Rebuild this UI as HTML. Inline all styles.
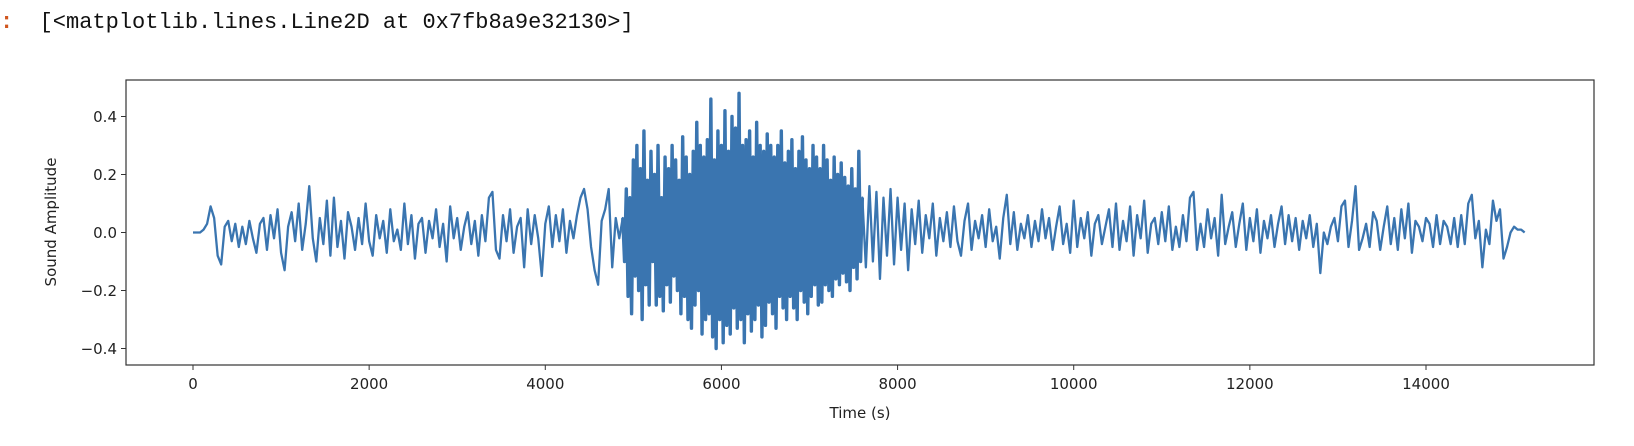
<!DOCTYPE html>
<html><head><meta charset="utf-8"><style>
body{margin:0;background:#fff;width:1634px;height:446px;overflow:hidden;position:relative;font-family:"DejaVu Sans","Liberation Sans",sans-serif}
#hdr{position:absolute;left:0;top:10px;font-family:"Liberation Mono",monospace;font-size:22px;color:#111;white-space:pre}
#hdr .c{color:#d0561e;font-weight:bold}
</style></head><body>
<div id="hdr"><span class="c">:</span>  [&lt;matplotlib.lines.Line2D at 0x7fb8a9e32130&gt;]</div>
<svg id="chart" width="1634" height="446" style="position:absolute;left:0;top:0"></svg>
<script>
const sampleStep = 40;
const amplitude = [
0,0,0,0.01,0.03,0.09,0.05,-0.08,-0.11,0.02,0.04,-0.03,0.03,-0.05,0.02,-0.04,0.04,-0.02,-0.07,0.03,
0.05,-0.06,0.06,-0.02,0.08,-0.07,-0.13,0.02,0.07,-0.03,0.10,-0.06,0.03,0.16,-0.02,-0.10,0.05,-0.04,0.11,-0.08,
0.12,-0.05,0.04,-0.09,0.07,0.02,-0.06,0.05,-0.04,0.10,-0.03,-0.08,0.06,-0.02,0.04,-0.07,0.08,-0.03,0.01,-0.06,
0.10,-0.04,0.06,-0.09,0.03,0.05,-0.07,0.04,-0.02,0.08,-0.05,0.03,-0.10,0.09,-0.02,0.05,-0.06,0.02,0.07,-0.04,
0.04,-0.08,0.06,-0.03,0.12,0.14,-0.06,-0.09,0.06,-0.03,0.08,-0.07,0.02,0.05,-0.12,0.08,-0.04,0.06,-0.02,-0.15,
0.03,0.09,-0.05,0.06,-0.03,0.08,-0.07,0.04,-0.02,0.06,0.12,0.15,0.08,-0.05,-0.13,-0.18,0.04,0.08,0.15,-0.12,
0.05,-0.02,0.12,-0.14,0.18,-0.20,0.25,-0.30,0.35,-0.18,0.28,-0.25,0.22,-0.22,0.30,-0.20,0.26,-0.18,0.33,-0.28,
0.28,-0.24,0.30,-0.33,0.25,-0.27,0.38,-0.30,0.32,-0.36,0.26,-0.40,0.46,-0.32,0.40,-0.38,0.30,-0.34,0.48,-0.30,
0.35,-0.36,0.28,-0.33,0.32,-0.26,0.30,-0.28,0.35,-0.22,0.29,-0.30,0.24,-0.26,0.33,-0.22,0.25,-0.20,0.27,-0.26,
0.22,-0.18,0.31,-0.24,0.19,-0.15,0.24,-0.22,0.18,-0.14,0.28,-0.12,0.16,-0.10,0.14,-0.16,0.12,-0.08,0.15,-0.11,
0.12,-0.06,0.10,-0.13,0.08,-0.04,0.11,-0.07,0.06,-0.02,0.10,-0.08,0.05,-0.03,0.07,-0.05,0.09,-0.03,-0.08,0.04,
0.10,-0.06,0.04,-0.02,0.06,-0.05,0.08,-0.03,0.02,-0.09,0.05,0.13,-0.04,0.07,-0.06,0.03,-0.02,0.06,-0.05,0.04,
-0.03,0.08,-0.02,0.05,-0.06,0.02,0.09,-0.04,0.03,-0.07,0.11,-0.05,0.05,-0.02,0.07,-0.08,0.03,0.06,-0.04,0.02,
0.08,-0.05,0.10,-0.06,0.04,-0.03,0.09,-0.08,0.06,-0.02,0.11,-0.07,0.03,0.05,-0.04,0.07,-0.03,0.09,-0.06,0.02,
-0.05,0.06,-0.03,0.12,0.14,-0.06,0.03,-0.05,0.08,-0.02,0.05,-0.08,0.13,-0.04,0.02,0.07,-0.05,0.03,0.10,-0.06,
0.05,-0.03,0.08,-0.07,0.04,-0.02,0.06,-0.05,0.03,0.09,-0.04,0.06,-0.03,0.05,-0.06,0.04,-0.02,0.06,-0.05,0.03,
-0.14,0.00,-0.04,0.02,0.05,-0.03,0.09,0.11,-0.05,0.04,0.16,-0.06,-0.02,0.03,-0.05,0.07,0.04,-0.06,0.02,0.09,
-0.04,0.05,-0.06,0.08,-0.02,0.10,-0.07,0.04,0.02,-0.03,0.05,0.03,-0.05,0.06,-0.04,0.04,0.02,-0.04,0.05,-0.05,
0.06,-0.04,0.10,0.13,-0.02,0.04,-0.12,0.01,-0.04,0.11,0.04,0.08,-0.09,-0.05,0.00,0.02,0.01,0.01,0.00
];
// finer-sampled burst section (replaces the coarse samples 4880..7600)
const burstStart = 4880;
const burstStep = 20;
const burstAmplitude = [
0.05,-0.10,0.15,-0.22,0.12,-0.28,0.25,-0.15,0.30,-0.20,0.22,-0.30,0.35,-0.18,0.18,-0.25,
0.28,-0.10,0.20,-0.25,0.30,-0.22,0.12,-0.27,0.26,-0.18,0.22,-0.24,0.30,-0.15,0.25,-0.20,
0.18,-0.28,0.33,-0.22,0.26,-0.30,0.20,-0.33,0.28,-0.25,0.38,-0.20,0.30,-0.35,0.26,-0.30,
0.32,-0.28,0.46,-0.36,0.25,-0.40,0.35,-0.30,0.30,-0.38,0.42,-0.32,0.28,-0.35,0.40,-0.26,
0.36,-0.33,0.48,-0.30,0.30,-0.38,0.32,-0.28,0.35,-0.34,0.26,-0.30,0.38,-0.25,0.30,-0.36,
0.28,-0.32,0.34,-0.24,0.30,-0.28,0.26,-0.33,0.30,-0.22,0.35,-0.26,0.24,-0.30,0.28,-0.22,
0.32,-0.26,0.22,-0.30,0.28,-0.20,0.33,-0.24,0.25,-0.28,0.22,-0.22,0.30,-0.18,0.26,-0.25,
0.22,-0.24,0.30,-0.18,0.25,-0.20,0.18,-0.22,0.26,-0.16,0.20,-0.18,0.24,-0.14,0.19,-0.17,
0.16,-0.20,0.22,-0.12,0.15,-0.16,0.28,-0.10,0.12
];
const xTicks = [0,2000,4000,6000,8000,10000,12000,14000];
const yTicks = [-0.4,-0.2,0.0,0.2,0.4];
const yTickLabels = ["\u22120.4","\u22120.2","0.0","0.2","0.4"];

const L=126,R=1594,T=80,B=365;
const xs = v => 193 + v*(1426-193)/14000;
const ys = v => 232.5 - v*290;
const svg=document.getElementById('chart');
const NS='http://www.w3.org/2000/svg';
function mk(tag,attrs){const e=document.createElementNS(NS,tag);for(const k in attrs)e.setAttribute(k,attrs[k]);svg.appendChild(e);return e;}

const burstEnd = burstStart + (burstAmplitude.length-1)*burstStep;
const pts=[];
amplitude.forEach((v,i)=>{const t=i*sampleStep; if(t<burstStart) pts.push([t,v]);});
burstAmplitude.forEach((v,i)=>pts.push([burstStart+i*burstStep,v]));
amplitude.forEach((v,i)=>{const t=i*sampleStep; if(t>burstEnd) pts.push([t,v]);});
let d='';
pts.forEach((p,i)=>{d+=(i?'L':'M')+xs(p[0]).toFixed(2)+','+ys(p[1]).toFixed(2);});
const line=mk('path',{d:d,fill:'none',stroke:'#3a75b0','stroke-width':2.3,'stroke-linejoin':'round'});


// thicker overlay to reproduce the dense, filled look of the burst
let bd='';
burstAmplitude.forEach((v,i)=>{bd+=(i?'L':'M')+xs(burstStart+i*burstStep).toFixed(2)+','+ys(v).toFixed(2);});
const burst=mk('path',{d:bd,fill:'none',stroke:'#3a75b0','stroke-width':3.4,'stroke-linejoin':'round'});



const frame=mk('rect',{x:L,y:T,width:R-L,height:B-T,fill:'none',stroke:'#333','stroke-width':1.2});



xTicks.forEach(t=>{
  const x=xs(t);
  mk('line',{x1:x,x2:x,y1:B,y2:B+5,stroke:'#333','stroke-width':1});
  const tx=mk('text',{x:x,y:B+24,'text-anchor':'middle','font-size':15,fill:'#222'});
  tx.textContent=String(t);
  
  
});
yTicks.forEach((t,i)=>{
  const y=ys(t);
  mk('line',{x1:L-5,x2:L,y1:y,y2:y,stroke:'#333','stroke-width':1});
  const tx=mk('text',{x:L-9,y:y+5.5,'text-anchor':'end','font-size':15,fill:'#222'});
  tx.textContent=yTickLabels[i];
  
  
});
const xl=mk('text',{x:(L+R)/2,y:418,'text-anchor':'middle','font-size':15,fill:'#222'});
xl.textContent='Time (s)';


const yl=mk('text',{x:0,y:0,'text-anchor':'middle','font-size':15,fill:'#222',transform:'translate(56,222) rotate(-90)'});
yl.textContent='Sound Amplitude';


</script>
</body></html>
